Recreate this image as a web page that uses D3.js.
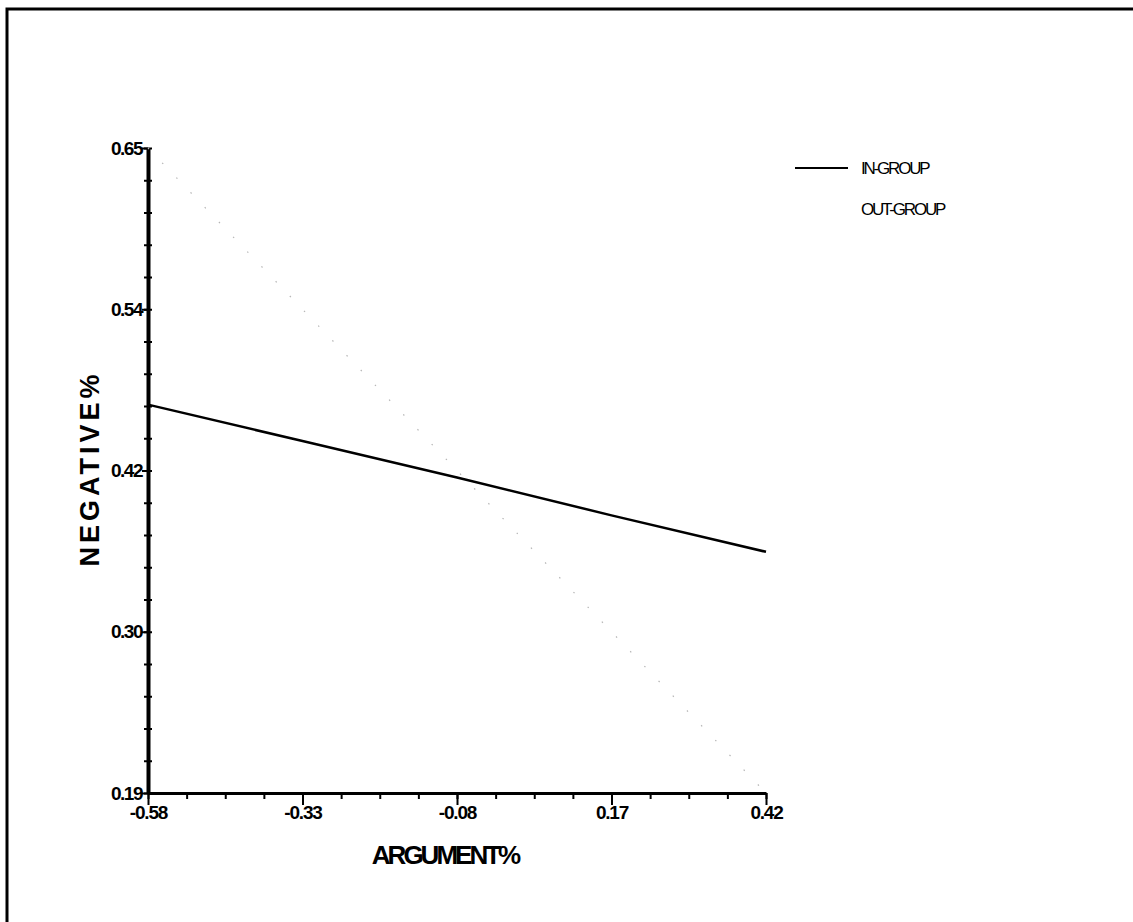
<!DOCTYPE html>
<html>
<head>
<meta charset="utf-8">
<script src="https://cdn.jsdelivr.net/npm/d3@7"></script>
<style>
  body { margin: 0; background: #fff; }
  text { font-family: "Liberation Sans Narrow", "Arial Narrow", "Liberation Sans", Arial, sans-serif; }
</style>
</head>
<body>
<script>
// data
const xTicks = [-0.58, -0.33, -0.08, 0.17, 0.42];
const xTickLabels = ["-0.58", "-0.33", "-0.08", "0.17", "0.42"];
const yTicks = [0.19, 0.305, 0.42, 0.535, 0.65];
const yTickLabels = ["0.19", "0.30", "0.42", "0.54", "0.65"];
const inGroup = [0.467, 0.441, 0.415, 0.388, 0.362];
const outGroup = [0.65, 0.535, 0.42, 0.305, 0.19];
const seriesNames = ["IN-GROUP", "OUT-GROUP"];

const width = 1133, height = 922;
const margin = { top: 148, left: 148, right: 367, bottom: 129 };

const svg = d3.select("body").append("svg")
    .attr("width", width)
    .attr("height", height);

// frame (only top and left are visible in the scan)
svg.append("path")
    .attr("d", `M7,${height} V9 H${width}`)
    .attr("fill", "none")
    .attr("stroke", "#000")
    .attr("stroke-width", 3);

const x = d3.scaleLinear()
    .domain([-0.58, 0.42])
    .range([margin.left, width - margin.right]);

const y = d3.scaleLinear()
    .domain([0.19, 0.65])
    .range([height - margin.bottom, margin.top]);

// minor ticks
const xMinor = d3.range(0, 17).map(i => -0.58 + i * 0.0625);
const yMinor = d3.range(0, 21).map(i => 0.19 + i * 0.023);

svg.append("g")
    .attr("transform", `translate(0,${y(0.19)})`)
    .call(d3.axisBottom(x).tickValues(xMinor).tickSize(6).tickFormat("").tickSizeOuter(0))
    .call(g => g.select(".domain").remove())
    .call(g => g.selectAll(".tick line").attr("stroke-width", 2));

svg.append("g")
    .attr("transform", `translate(${x(-0.58)},0)`)
    .call(d3.axisLeft(y).tickValues(yMinor).tickSize(4).tickFormat("").tickSizeOuter(0))
    .call(g => g.select(".domain").remove())
    .call(g => g.selectAll(".tick line").attr("x2", 4).attr("x1", -4).attr("stroke-width", 2));

// x axis
svg.append("g")
    .attr("transform", `translate(0,${y(0.19)})`)
    .call(d3.axisBottom(x).tickValues(xTicks).tickSize(12).tickSizeOuter(0)
        .tickFormat((d, i) => xTickLabels[i]))
    .call(g => g.select(".domain").attr("stroke-width", 3))
    .call(g => g.selectAll(".tick line").attr("stroke-width", 2))
    .call(g => g.selectAll(".tick text")
        .attr("y", 13)
        .attr("font-size", 19)
        .attr("font-weight", "bold")
        .attr("letter-spacing", -1.2)
        .attr("fill", "#000"));

// y axis
svg.append("g")
    .attr("transform", `translate(${x(-0.58)},0)`)
    .call(d3.axisLeft(y).tickValues(yTicks).tickSize(6).tickSizeOuter(0)
        .tickFormat((d, i) => yTickLabels[i]))
    .call(g => g.select(".domain").attr("stroke-width", 4))
    .call(g => g.selectAll(".tick line").attr("stroke-width", 2))
    .call(g => g.selectAll(".tick text")
        .attr("x", -6)
        .attr("font-size", 19)
        .attr("font-weight", "bold")
        .attr("letter-spacing", -1.5)
        .attr("fill", "#000"));

// axis titles
svg.append("text")
    .attr("x", x(-0.08) - 12)
    .attr("y", 864)
    .attr("text-anchor", "middle")
    .attr("font-size", 26)
    .attr("font-weight", "bold")
    .attr("letter-spacing", -3)
    .text("ARGUMENT%");

svg.append("text")
    .attr("transform", `translate(99,${y(0.42) - 2}) rotate(-90)`)
    .attr("text-anchor", "middle")
    .attr("font-size", 27)
    .attr("font-weight", "bold")
    .attr("letter-spacing", 4)
    .style("font-family", "'Liberation Sans', Arial, sans-serif")
    .text("NEGATIVE%");

// lines
const line = d3.line()
    .x((d, i) => x(xTicks[i]))
    .y(d => y(d));

svg.append("path")
    .datum(outGroup)
    .attr("d", line)
    .attr("fill", "none")
    .attr("stroke", "#b5b5b5")
    .attr("stroke-width", 1.2)
    .attr("stroke-dasharray", "1.5,19");

svg.append("path")
    .datum(inGroup)
    .attr("d", line)
    .attr("fill", "none")
    .attr("stroke", "#000")
    .attr("stroke-width", 2.5);

// legend
const legend = svg.append("g").attr("transform", "translate(795,168)");
legend.append("line")
    .attr("x1", 0).attr("x2", 53)
    .attr("y1", 0).attr("y2", 0)
    .attr("stroke", "#000")
    .attr("stroke-width", 2);
legend.selectAll("text.lab")
    .data(seriesNames)
    .join("text")
    .attr("class", "lab")
    .attr("x", 66)
    .attr("y", (d, i) => i * 41)
    .attr("dy", "0.35em")
    .attr("font-size", 17)
    .attr("letter-spacing", -2.2)
    .text(d => d);
</script>
</body>
</html>
